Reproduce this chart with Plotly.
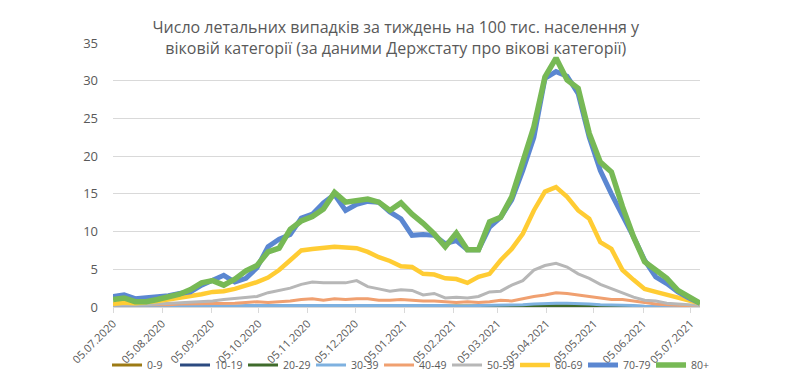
import pandas as pd
import plotly.graph_objects as go

dates = pd.date_range("2020-07-05", periods=54, freq="7D")

age_groups = ["0-9", "10-19", "20-29", "30-39", "40-49", "50-59", "60-69", "70-79", "80+"]

v_0_9 = [0.0] * 54
v_10_19 = [0.02] * 54
v_20_29 = [0.05, 0.05, 0.05, 0.05, 0.05, 0.05, 0.05, 0.05, 0.05, 0.05,
           0.05, 0.05, 0.08, 0.08, 0.1, 0.1, 0.1, 0.12, 0.12, 0.12,
           0.12, 0.12, 0.12, 0.1, 0.1, 0.1, 0.1, 0.08, 0.08, 0.08,
           0.08, 0.06, 0.06, 0.08, 0.1, 0.1, 0.12, 0.15, 0.18, 0.2,
           0.2, 0.2, 0.18, 0.15, 0.12, 0.1, 0.08, 0.06, 0.05, 0.04,
           0.03, 0.03, 0.02, 0.02]
v_30_39 = [0.1, 0.1, 0.1, 0.1, 0.1, 0.1, 0.1, 0.1, 0.1, 0.1,
           0.1, 0.1, 0.2, 0.2, 0.2, 0.2, 0.2, 0.3, 0.3, 0.3,
           0.3, 0.3, 0.3, 0.3, 0.2, 0.2, 0.2, 0.2, 0.2, 0.2,
           0.2, 0.1, 0.1, 0.2, 0.2, 0.2, 0.3, 0.3, 0.4, 0.5,
           0.5, 0.5, 0.5, 0.4, 0.3, 0.3, 0.2, 0.2, 0.1, 0.1,
           0.1, 0.1, 0.1, 0.0]
v_40_49 = [0.3, 0.3, 0.2, 0.2, 0.3, 0.3, 0.4, 0.4, 0.4, 0.5,
           0.5, 0.5, 0.6, 0.7, 0.6, 0.7, 0.8, 1.0, 1.1, 0.9,
           1.1, 1.0, 1.1, 1.1, 0.9, 0.9, 1.0, 0.9, 0.8, 0.8,
           0.7, 0.6, 0.7, 0.6, 0.7, 0.9, 0.8, 1.1, 1.4, 1.6,
           1.9, 1.8, 1.6, 1.4, 1.2, 1.0, 1.0, 0.8, 0.6, 0.4,
           0.3, 0.2, 0.2, 0.1]
v_50_59 = [0.3, 0.3, 0.3, 0.3, 0.4, 0.5, 0.5, 0.6, 0.7, 0.8,
           1.0, 1.1, 1.3, 1.4, 1.9, 2.2, 2.5, 3.0, 3.3, 3.2,
           3.2, 3.2, 3.5, 2.7, 2.4, 2.1, 2.3, 2.2, 1.6, 1.8,
           1.2, 1.3, 1.2, 1.4, 2.0, 2.1, 2.9, 3.5, 4.9, 5.5,
           5.8, 5.3, 4.4, 3.8, 3.0, 2.4, 1.8, 1.3, 0.9, 0.8,
           0.5, 0.4, 0.3, 0.2]
v_60_69 = [0.4, 0.6, 0.5, 0.6, 0.8, 1.0, 1.2, 1.4, 1.7, 2.0,
           2.1, 2.4, 2.8, 3.3, 3.9, 4.9, 6.2, 7.5, 7.7, 7.9,
           8.0, 7.9, 7.8, 7.3, 6.6, 6.1, 5.4, 5.3, 4.4, 4.3,
           3.8, 3.7, 3.2, 4.0, 4.4, 6.2, 7.7, 9.7, 12.8, 15.3,
           15.9, 14.6, 12.8, 11.7, 8.6, 7.7, 4.9, 3.6, 2.4, 2.0,
           1.6, 1.2, 0.9, 0.5]
v_70_79 = [1.4, 1.6, 1.1, 1.2, 1.3, 1.5, 1.8, 2.0, 2.9, 3.5,
           4.2, 3.3, 3.8, 5.2, 8.0, 9.0, 9.6, 11.8, 12.3, 13.8,
           14.9, 12.8, 13.6, 14.0, 13.9, 12.6, 11.7, 9.5, 9.6, 9.5,
           8.4, 8.8, 7.6, 7.6, 10.6, 11.9, 14.2, 18.1, 22.5, 30.3,
           31.2, 30.6, 28.3, 22.5, 18.1, 15.0, 12.2, 9.3, 6.2, 4.0,
           3.1, 2.0, 1.2, 0.5]
v_80 = [1.0, 1.2, 0.7, 0.7, 1.0, 1.4, 1.7, 2.3, 3.2, 3.5,
        2.9, 3.7, 4.8, 5.5, 7.3, 7.8, 10.3, 11.4, 12.0, 13.0,
        15.2, 13.9, 14.1, 14.3, 13.9, 12.8, 13.8, 12.3, 11.1, 9.7,
        8.0, 9.8, 7.6, 7.6, 11.3, 11.9, 14.6, 19.5, 23.9, 30.5,
        33.0, 30.1, 29.0, 23.0, 19.2, 17.9, 13.3, 9.3, 6.0, 4.9,
        3.8, 2.2, 1.3, 0.5]

series = [v_0_9, v_10_19, v_20_29, v_30_39, v_40_49, v_50_59, v_60_69, v_70_79, v_80]
colors = ["#9C7A14", "#2B4A80", "#3F6B2B", "#7EB1E0", "#F0A070",
          "#B7B7B7", "#FFCC33", "#5B87D1", "#77B955"]
widths = [3, 3, 3, 3, 3, 3, 4.5, 5, 5.5]

tick_dates = ["2020-07-05", "2020-08-05", "2020-09-05", "2020-10-05", "2020-11-05",
              "2020-12-05", "2021-01-05", "2021-02-05", "2021-03-05", "2021-04-05",
              "2021-05-05", "2021-06-05", "2021-07-05"]
tick_labels = ["05.07.2020", "05.08.2020", "05.09.2020", "05.10.2020", "05.11.2020",
               "05.12.2020", "05.01.2021", "05.02.2021", "05.03.2021", "05.04.2021",
               "05.05.2021", "05.06.2021", "05.07.2021"]

title_text = ("Число летальних випадків за тиждень на 100 тис. населення у<br>"
              "віковій категорії (за даними Держстату про вікові категорії)")

fig = go.Figure()
for name, vals, c, w in zip(age_groups, series, colors, widths):
    fig.add_trace(go.Scatter(x=dates, y=vals, mode="lines", name=name,
                             line=dict(color=c, width=w)))

fig.update_layout(
    width=798, height=381,
    margin=dict(l=113, r=98, t=43, b=74, autoexpand=False),
    paper_bgcolor="white", plot_bgcolor="white",
    font=dict(family="Open Sans, sans-serif", color="#595959"),
    title=dict(text=title_text, x=0.496, xanchor="center", y=0.914, yanchor="middle",
               font=dict(size=16, color="#595959")),
    showlegend=True,
    legend=dict(orientation="h", x=-0.0102, xanchor="left",
                y=-0.22, yanchor="middle",
                font=dict(size=10.5, color="#595959"), entrywidth=23,
                itemwidth=30, bgcolor="rgba(0,0,0,0)", tracegroupgap=0),
    xaxis=dict(type="date", range=["2020-07-05", "2021-07-11"],
               tickvals=tick_dates, ticktext=tick_labels, tickangle=-45,
               tickfont=dict(size=11, color="#595959"), automargin=False,
               showgrid=False, showline=True, linecolor="#D9D9D9",
               ticks="outside", ticklen=5, tickcolor="#D9D9D9", zeroline=False),
    yaxis=dict(range=[0, 35], dtick=5, tickfont=dict(size=13, color="#595959"),
               showgrid=True, gridcolor="#D9D9D9", gridwidth=1, zeroline=False,
               automargin=False, ticklabelstandoff=14),
)

fig.write_html("out.html", config={"displayModeBar": False},
               post_script="document.body.style.margin='0';document.body.style.overflow='hidden';")
